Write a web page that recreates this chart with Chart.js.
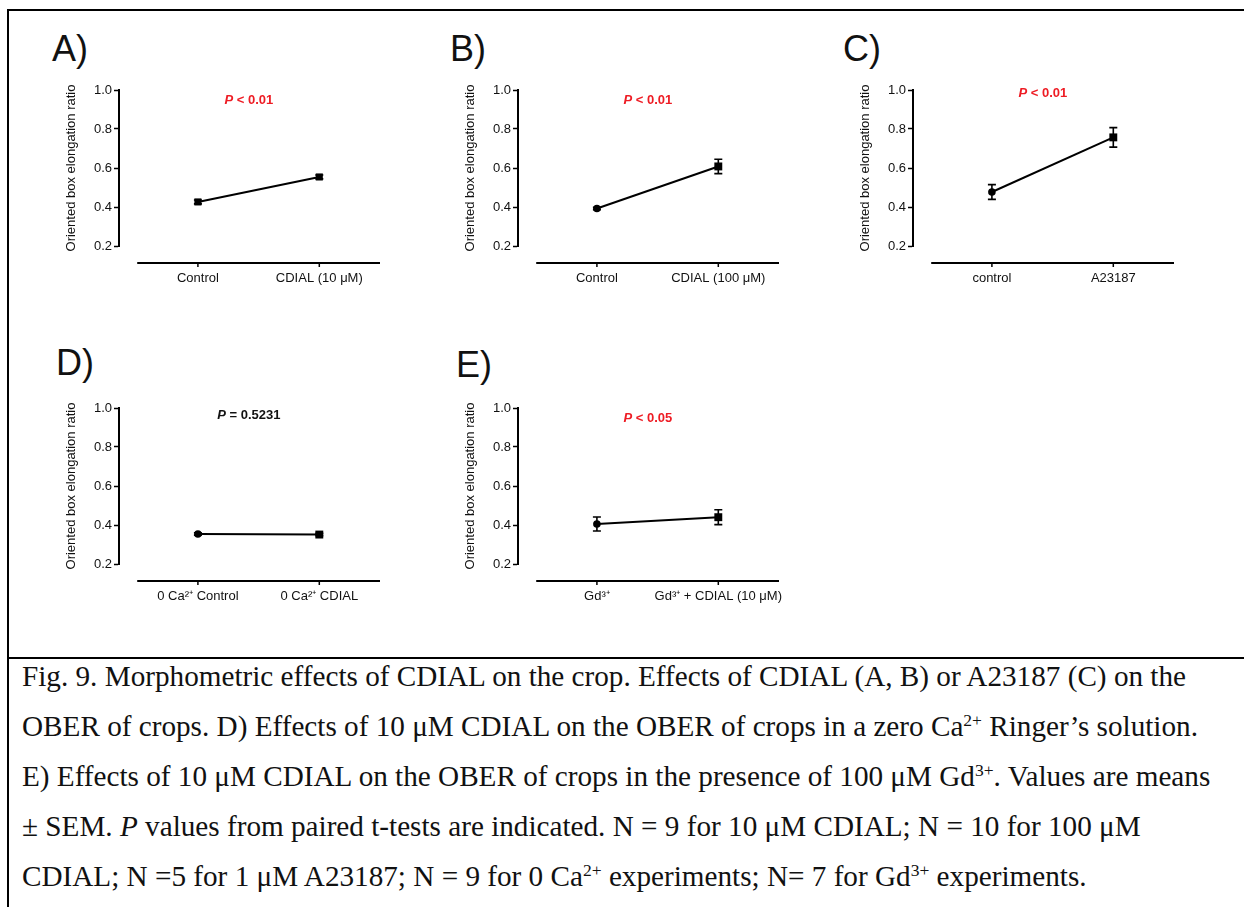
<!DOCTYPE html>
<html>
<head>
<meta charset="utf-8">
<script src="https://cdn.jsdelivr.net/npm/chart.js@4"></script>
<style>
  body { margin: 0; background: #fff; width: 1244px; height: 907px; position: relative; overflow: hidden;
         font-family: 'Liberation Sans', Arial, sans-serif; }
  .rule { position: absolute; background: #000; }
  .letter { position: absolute; font-size: 36px; line-height: 1; color: #111; }
  canvas.panel { position: absolute; }
  .caption { position: absolute; left: 22px; top: 651px; font-family: 'Liberation Serif', 'Times New Roman', serif;
             font-size: 29.2px; line-height: 50px; color: #111; white-space: nowrap; }
  .caption sup { font-size: 0.6em; line-height: 0; vertical-align: 0; position: relative; top: -0.6em; }
</style>
</head>
<body>
<div class="rule" style="left:7px;top:9px;width:1237px;height:2px"></div>
<div class="rule" style="left:7px;top:9px;width:2px;height:898px"></div>
<div class="rule" style="left:7px;top:657px;width:1237px;height:2px"></div>

<div class="caption">
Fig. 9. Morphometric effects of CDIAL on the crop. Effects of CDIAL (A, B) or A23187 (C) on the<br>
OBER of crops. D) Effects of 10 μM CDIAL on the OBER of crops in a zero Ca<sup>2+</sup> Ringer’s solution.<br>
E) Effects of 10 μM CDIAL on the OBER of crops in the presence of 100 μM Gd<sup>3+</sup>. Values are means<br>
± SEM. <i>P</i> values from paired t-tests are indicated. N = 9 for 10 μM CDIAL; N = 10 for 100 μM<br>
CDIAL; N =5 for 1 μM A23187; N = 9 for 0 Ca<sup>2+</sup> experiments; N= 7 for Gd<sup>3+</sup> experiments.
</div>

<script>
// values (mean ± SEM)
const categoriesA = ['Control', 'CDIAL (10 μM)'];
const categoriesB = ['Control', 'CDIAL (100 μM)'];
const categoriesC = ['control', 'A23187'];
const categoriesD = ['0 Ca²⁺ Control', '0 Ca²⁺ CDIAL'];
const categoriesE = ['Gd³⁺', 'Gd³⁺ + CDIAL (10 μM)'];

const meansA = [0.426, 0.554];
const semA = [0.010, 0.010];
const meansB = [0.392, 0.608];
const semB = [0.006, 0.037];
const meansC = [0.477, 0.757];
const semC = [0.038, 0.050];
const meansD = [0.354, 0.351];
const semD = [0.006, 0.006];
const meansE = [0.405, 0.440];
const semE = [0.036, 0.038];

const pValueText = ['< 0.01', '< 0.01', '< 0.01', '= 0.5231', '< 0.05'];
const yTicks = [0.2, 0.4, 0.6, 0.8, 1.0];
const yTitle = 'Oriented box elongation ratio';

const FONT = "'Liberation Sans', Arial, sans-serif";
const RED = '#ee1c24';

// layout of the five panels (pixel position of the y axis and of its 1.0 tick)
const panels = [
  { letter: 'A)', cats: categoriesA, means: meansA, sem: semA, p: pValueText[0], pColor: RED, pY: 0.949, shapes: ['rect', 'rect'], axisX: 119, top: 90, lx: 52, ly: 31 },
  { letter: 'B)', cats: categoriesB, means: meansB, sem: semB, p: pValueText[1], pColor: RED, pY: 0.949, shapes: ['circle', 'rect'], axisX: 518, top: 90, lx: 450, ly: 31 },
  { letter: 'C)', cats: categoriesC, means: meansC, sem: semC, p: pValueText[2], pColor: RED, pY: 0.980, shapes: ['circle', 'rect'], axisX: 913, top: 90, lx: 843, ly: 31 },
  { letter: 'D)', cats: categoriesD, means: meansD, sem: semD, p: pValueText[3], pColor: '#111', pY: 0.964, shapes: ['circle', 'rect'], axisX: 119, top: 408, lx: 56, ly: 345 },
  { letter: 'E)', cats: categoriesE, means: meansE, sem: semE, p: pValueText[4], pColor: RED, pY: 0.949, shapes: ['circle', 'rect'], axisX: 518, top: 408, lx: 456, ly: 347 }
];

const W = 360, H = 236, LEFT = 79, TOP = 20, RIGHT = 20, XH = 45, BOTTOM = 15;

function prismPlugin(panel) {
  return {
    id: 'prism',
    beforeDatasetsDraw(chart) {
      const { ctx, scales: { x, y } } = chart;
      ctx.save();
      ctx.strokeStyle = '#000';
      ctx.lineWidth = 1.6;
      panel.means.forEach((m, i) => {
        const px = x.getPixelForValue(i);
        const t = y.getPixelForValue(m + panel.sem[i]);
        const b = y.getPixelForValue(m - panel.sem[i]);
        ctx.beginPath();
        ctx.moveTo(px, t); ctx.lineTo(px, b);
        ctx.moveTo(px - 4, t); ctx.lineTo(px + 4, t);
        ctx.moveTo(px - 4, b); ctx.lineTo(px + 4, b);
        ctx.stroke();
      });
      ctx.restore();
    },
    afterDraw(chart) {
      const { ctx, chartArea, scales: { x, y } } = chart;
      ctx.save();
      // detached x axis, Prism style
      const ly = chartArea.bottom + 17;
      ctx.strokeStyle = '#000';
      ctx.lineWidth = 2;
      ctx.beginPath();
      ctx.moveTo(x.getPixelForValue(-0.5), ly);
      ctx.lineTo(x.getPixelForValue(1.5), ly);
      ctx.stroke();
      ctx.lineWidth = 1.5;
      panel.cats.forEach((c, i) => {
        const px = x.getPixelForValue(i);
        ctx.beginPath();
        ctx.moveTo(px, ly - 1); ctx.lineTo(px, ly + 4);
        ctx.stroke();
      });
      // P value
      ctx.fillStyle = panel.pColor;
      ctx.textBaseline = 'middle';
      const f1 = `italic bold 13px ${FONT}`, f2 = `bold 13px ${FONT}`;
      const rest = ' ' + panel.p;
      ctx.font = f1; const w1 = ctx.measureText('P').width;
      ctx.font = f2; const w2 = ctx.measureText(rest).width;
      const cx = x.getPixelForValue(0.42), cy = y.getPixelForValue(panel.pY);
      const sx = cx - (w1 + w2) / 2;
      ctx.font = f1; ctx.fillText('P', sx, cy);
      ctx.font = f2; ctx.fillText(rest, sx + w1, cy);
      ctx.restore();
    }
  };
}

panels.forEach(panel => {
  const letter = document.createElement('div');
  letter.className = 'letter';
  letter.textContent = panel.letter;
  letter.style.left = panel.lx + 'px';
  letter.style.top = panel.ly + 'px';
  document.body.appendChild(letter);

  const canvas = document.createElement('canvas');
  canvas.className = 'panel';
  canvas.width = W; canvas.height = H;
  canvas.style.left = (panel.axisX - LEFT) + 'px';
  canvas.style.top = (panel.top - TOP) + 'px';
  canvas.style.width = W + 'px'; canvas.style.height = H + 'px';
  document.body.appendChild(canvas);

  new Chart(canvas.getContext('2d'), {
    type: 'scatter',
    data: {
      datasets: [{
        data: panel.means.map((m, i) => ({ x: i, y: m })),
        showLine: true,
        borderColor: '#000',
        borderWidth: 2,
        backgroundColor: '#000',
        pointBackgroundColor: '#000',
        pointBorderColor: '#000',
        pointBorderWidth: 0,
        pointStyle: panel.shapes,
        pointRadius: panel.shapes.map(s => s === 'rect' ? (panel.letter === 'A)' ? 5 : 5.6) : 3.8)
      }]
    },
    options: {
      responsive: false,
      animation: false,
      layout: { padding: { left: 0, top: TOP, right: RIGHT, bottom: BOTTOM } },
      plugins: { legend: { display: false }, tooltip: { enabled: false } },
      scales: {
        x: {
          type: 'linear',
          min: -0.65,
          max: 1.5,
          grid: { display: false, drawTicks: false },
          border: { display: false },
          afterBuildTicks: axis => { axis.ticks = panel.cats.map((c, i) => ({ value: i })); },
          afterFit: axis => { axis.height = XH; axis.paddingLeft = 0; axis.paddingRight = 0; },
          ticks: {
            autoSkip: false,
            maxRotation: 0,
            padding: 25,
            color: '#111',
            font: { family: FONT, size: 13 },
            callback: v => panel.cats[v]
          }
        },
        y: {
          min: 0.2,
          max: 1.0,
          afterBuildTicks: axis => { axis.ticks = yTicks.map(v => ({ value: v })); },
          afterFit: axis => { axis.width = LEFT; axis.paddingTop = 0; axis.paddingBottom = 0; },
          grid: { drawOnChartArea: false, drawTicks: true, tickLength: 5, tickColor: '#000', tickWidth: 1.5 },
          border: { display: true, color: '#000', width: 2 },
          ticks: {
            padding: 2,
            color: '#111',
            font: { family: FONT, size: 13 },
            callback: v => v.toFixed(1)
          },
          title: {
            display: true,
            text: yTitle,
            color: '#111',
            font: { family: FONT, size: 13 },
            padding: { top: 24, bottom: 0 }
          }
        }
      }
    },
    plugins: [prismPlugin(panel)]
  });
});
</script>
</body>
</html>
